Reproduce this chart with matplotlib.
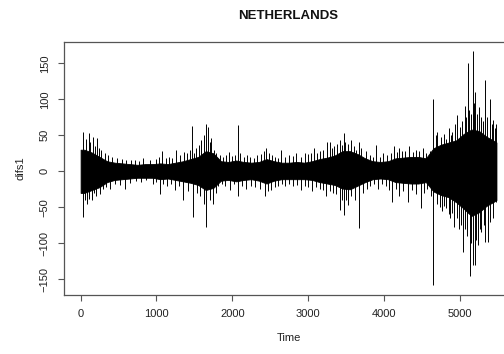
import numpy as np
import matplotlib.pyplot as plt

plt.rcParams['font.family'] = ['Liberation Sans', 'DejaVu Sans']

# dense core band of difs1, read at the middle of each 100-step bin
core_t = [1] + list(range(50, 5500, 100)) + [5480]
core_hi = [30, 30, 26, 20, 14, 12, 11, 10, 9, 10, 10,
           11, 10, 12, 14, 17, 20, 28, 25, 14, 13,
           15, 13, 12, 13, 17, 14, 12, 12, 13, 12,
           14, 17, 19, 22, 28, 28, 24, 18, 14, 13,
           14, 18, 19, 20, 20, 18, 32, 37, 40, 43,
           52, 58, 56, 48, 42, 40]
core_lo = [-30, -30, -26, -22, -15, -12, -11, -10, -9, -9, -9,
           -11, -10, -12, -14, -16, -19, -26, -23, -13, -12,
           -14, -12, -11, -13, -17, -13, -11, -11, -11, -11,
           -12, -15, -17, -19, -24, -25, -20, -15, -11, -10,
           -11, -15, -16, -17, -17, -15, -28, -33, -36, -43,
           -52, -62, -57, -48, -42, -40]

# single excursions outside the core
up_t = [35, 70, 105, 130, 158, 190, 215, 245, 276, 320, 364, 420, 474, 540,
        605, 660, 715, 770, 825, 910, 1000, 1040, 1079, 1120, 1160, 1210,
        1263, 1310, 1360, 1400, 1440, 1474, 1500, 1526, 1560, 1592, 1630,
        1658, 1680, 1700, 1724, 1760, 1790, 1833, 1880, 1920, 1956, 2000,
        2040, 2079, 2105, 2150, 2190, 2228, 2280, 2330, 2380, 2420, 2447,
        2480, 2520, 2560, 2600, 2645, 2700, 2750, 2800, 2842, 2900, 2952,
        3000, 3030, 3070, 3110, 3160, 3200, 3246, 3281, 3310, 3340, 3380,
        3412, 3440, 3465, 3490, 3520, 3566, 3600, 3632, 3667, 3700, 3760,
        3810, 3850, 3895, 3940, 3990, 4040, 4090, 4136, 4170, 4202, 4240,
        4270, 4333, 4380, 4420, 4460, 4509, 4550, 4600, 4649, 4680, 4700,
        4750, 4790, 4820, 4850, 4880, 4900, 4930, 4956, 5000, 5030, 5060,
        5080, 5101, 5120, 5140, 5167, 5185, 5200, 5230, 5255, 5280, 5300,
        5329, 5360, 5395, 5420, 5438, 5460, 5478]
up_v = [55, 45, 53, 40, 48, 35, 46, 32, 30, 26, 23, 20, 18, 17,
        16, 15, 15, 14, 18, 15, 17, 20, 28, 19, 20, 18,
        29, 22, 27, 25, 30, 63, 26, 32, 36, 44, 50,
        66, 62, 40, 46, 30, 25, 23, 20, 22, 27, 21,
        22, 64, 25, 20, 22, 20, 19, 22, 24, 28, 33,
        25, 22, 20, 19, 30, 20, 22, 21, 25, 20, 25,
        24, 26, 33, 25, 28, 30, 41, 41, 33, 35, 38,
        43, 36, 53, 40, 38, 44, 35, 30, 41, 32, 28,
        22, 20, 36, 20, 25, 22, 26, 35, 27, 33, 28,
        28, 35, 27, 30, 28, 33, 26, 28, 101, 50, 55,
        48, 52, 45, 60, 50, 55, 65, 78, 62, 70, 90,
        75, 150, 85, 80, 167, 95, 110, 80, 89, 75, 70,
        127, 75, 101, 65, 71, 60, 65]
down_t = [35, 55, 79, 110, 145, 180, 210, 254, 300, 340, 386, 450, 518,
          583, 650, 737, 800, 868, 950, 1000, 1044, 1090, 1140, 1190, 1241,
          1300, 1351, 1420, 1482, 1530, 1570, 1620, 1658, 1700, 1746, 1780,
          1811, 1860, 1900, 1965, 2020, 2079, 2130, 2184, 2240, 2300, 2360,
          2425, 2470, 2513, 2560, 2600, 2650, 2689, 2740, 2799, 2850, 2908,
          2960, 3000, 3053, 3100, 3150, 3200, 3237, 3290, 3330, 3370, 3412,
          3440, 3465, 3500, 3522, 3570, 3610, 3667, 3719, 3770, 3820, 3870,
          3917, 3970, 4020, 4060, 4105, 4150, 4202, 4250, 4311, 4370, 4421,
          4487, 4530, 4560, 4620, 4649, 4700, 4730, 4760, 4790, 4816, 4850,
          4870, 4900, 4926, 4960, 4980, 5010, 5044, 5070, 5090, 5130, 5150,
          5167, 5197, 5215, 5233, 5260, 5280, 5310, 5329, 5365, 5400, 5430,
          5474]
down_v = [-63, -40, -45, -38, -40, -30, -35, -31, -25, -22, -24, -18, -19,
          -24, -16, -14, -15, -12, -18, -15, -31, -18, -20, -17, -26,
          -20, -40, -28, -63, -30, -35, -45, -77, -40, -45, -30,
          -21, -18, -20, -26, -18, -35, -20, -24, -20, -22, -24,
          -34, -28, -26, -22, -20, -18, -21, -17, -21, -19, -26,
          -20, -22, -28, -22, -25, -26, -35, -28, -30, -32, -54,
          -40, -61, -40, -47, -35, -40, -79, -30, -24, -20, -18,
          -24, -18, -20, -26, -42, -25, -35, -28, -42, -26, -31,
          -51, -30, -25, -35, -158, -45, -50, -55, -48, -51, -60,
          -65, -58, -77, -65, -80, -75, -112, -80, -90, -146, -100,
          -130, -130, -95, -102, -80, -85, -75, -98, -98, -70, -65,
          -42]

fig = plt.figure(figsize=(5.04, 3.54), dpi=100)
ax = fig.add_axes([0.127, 0.1667, 0.891, 0.7147])

ax.fill_between(core_t, core_lo, core_hi, color='black', linewidth=0.6)
ax.vlines(up_t, 0, up_v, color='black', linewidth=0.7)
ax.vlines(down_t, 0, down_v, color='black', linewidth=0.7)

ax.set_xlim(-218, 5699)
ax.set_ylim(-171.8, 179.6)
ax.set_xticks([0, 1000, 2000, 3000, 4000, 5000])
ax.set_yticks([-150, -100, -50, 0, 50, 100, 150])
for s in ax.spines.values():
    s.set_color('#555555')
    s.set_linewidth(0.9)
ax.tick_params(axis='both', length=4.3, width=0.8, color='#555555',
               labelsize=8, labelcolor='#222222', pad=6)
for lab in ax.get_yticklabels():
    lab.set_rotation(90)
    lab.set_va('center')

ax.set_xlabel('Time', fontsize=8, color='#222222', labelpad=10)
ax.set_ylabel('difs1', fontsize=8, color='#222222', labelpad=10)
fig.text(0.572, 0.955, 'NETHERLANDS', fontsize=9.5, fontweight='bold',
         ha='center', va='center', color='#111111')

fig.savefig('out.png', dpi=100)
